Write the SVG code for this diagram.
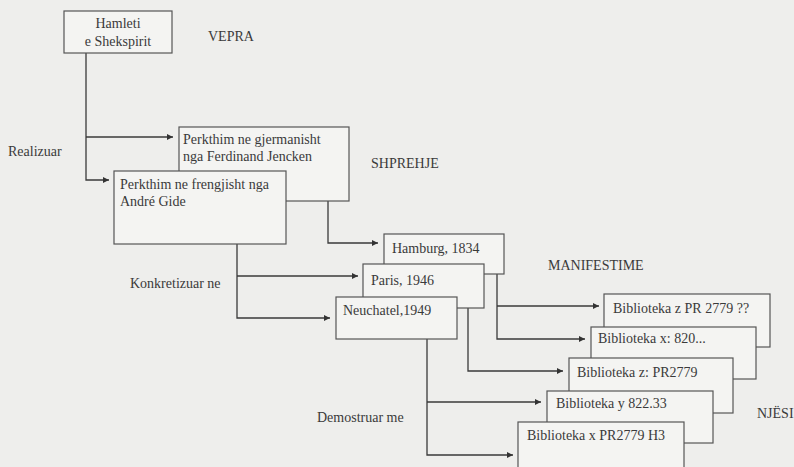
<svg xmlns="http://www.w3.org/2000/svg" width="794" height="467" viewBox="0 0 794 467">
<defs>
<style>
.bg{fill:#eeeeec}
.box{fill:#f4f4f2;stroke:#555;stroke-width:1.2}
.t{font-family:"Liberation Serif","Times New Roman",serif;font-size:14px;fill:#3a3a3a}
.c{fill:none;stroke:#3a3a3a;stroke-width:1.3}
</style>
<marker id="ah" viewBox="0 0 10 10" refX="10" refY="5" markerWidth="8" markerHeight="6" markerUnits="userSpaceOnUse" orient="auto">
<path d="M0,0 L10,5 L0,10 z" fill="#333"/>
</marker>
</defs>
<rect class="bg" x="0" y="0" width="794" height="467"/>

<g id="connectors">
<path class="c" d="M86,53 V180 H109" marker-end="url(#ah)"/>
<path class="c" d="M86,137 H173" marker-end="url(#ah)"/>
<path class="c" d="M328,201 V243 H378" marker-end="url(#ah)"/>
<path class="c" d="M237,244 V318 H330" marker-end="url(#ah)"/>
<path class="c" d="M237,276 H358" marker-end="url(#ah)"/>
<path class="c" d="M497,274 V339 H585" marker-end="url(#ah)"/>
<path class="c" d="M497,306 H599" marker-end="url(#ah)"/>
<path class="c" d="M468,308 V371 H563" marker-end="url(#ah)"/>
<path class="c" d="M427,339 V455 H513" marker-end="url(#ah)"/>
<path class="c" d="M427,402 H541" marker-end="url(#ah)"/>
</g>

<g id="hamleti">
<rect class="box" x="64" y="11" width="108" height="42"/>
<text class="t" x="118" y="28" text-anchor="middle">Hamleti</text>
<text class="t" x="118" y="46" text-anchor="middle">e Shekspirit</text>
</g>
<g id="german">
<rect class="box" x="179" y="127" width="170" height="74"/>
<text class="t" x="183" y="144">Perkthim ne gjermanisht</text>
<text class="t" x="183" y="161">nga Ferdinand Jencken</text>
</g>
<g id="french">
<rect class="box" x="114" y="171" width="172" height="73"/>
<text class="t" x="120" y="189">Perkthim ne frengjisht nga</text>
<text class="t" x="120" y="206">André Gide</text>
</g>
<g id="hamburg">
<rect class="box" x="384" y="234" width="120" height="40"/>
<text class="t" x="392" y="253">Hamburg, 1834</text>
</g>
<g id="paris">
<rect class="box" x="363" y="264" width="121" height="44"/>
<text class="t" x="371" y="285">Paris, 1946</text>
</g>
<g id="neuchatel">
<rect class="box" x="336" y="297" width="121" height="42"/>
<text class="t" x="343" y="315">Neuchatel,1949</text>
</g>
<g id="b1">
<rect class="box" x="604" y="294" width="166" height="53"/>
<text class="t" x="613" y="313">Biblioteka z PR 2779 ??</text>
</g>
<g id="b2">
<rect class="box" x="591" y="327" width="165" height="52"/>
<text class="t" x="598" y="343">Biblioteka x: 820...</text>
</g>
<g id="b3">
<rect class="box" x="569" y="358" width="164" height="55"/>
<text class="t" x="577" y="377">Biblioteka z: PR2779</text>
</g>
<g id="b4">
<rect class="box" x="547" y="391" width="166" height="52"/>
<text class="t" x="556" y="408">Biblioteka y 822.33</text>
</g>
<g id="b5">
<rect class="box" x="518" y="422" width="166" height="56"/>
<text class="t" x="527" y="440">Biblioteka x PR2779 H3</text>
</g>

<g id="labels">
<text class="t" x="208" y="41">VEPRA</text>
<text class="t" x="8" y="156">Realizuar</text>
<text class="t" x="371" y="168">SHPREHJE</text>
<text class="t" x="130" y="288">Konkretizuar ne</text>
<text class="t" x="548" y="270">MANIFESTIME</text>
<text class="t" x="317" y="422">Demostruar me</text>
<text class="t" x="757" y="418">NJËSI</text>
</g>
</svg>
